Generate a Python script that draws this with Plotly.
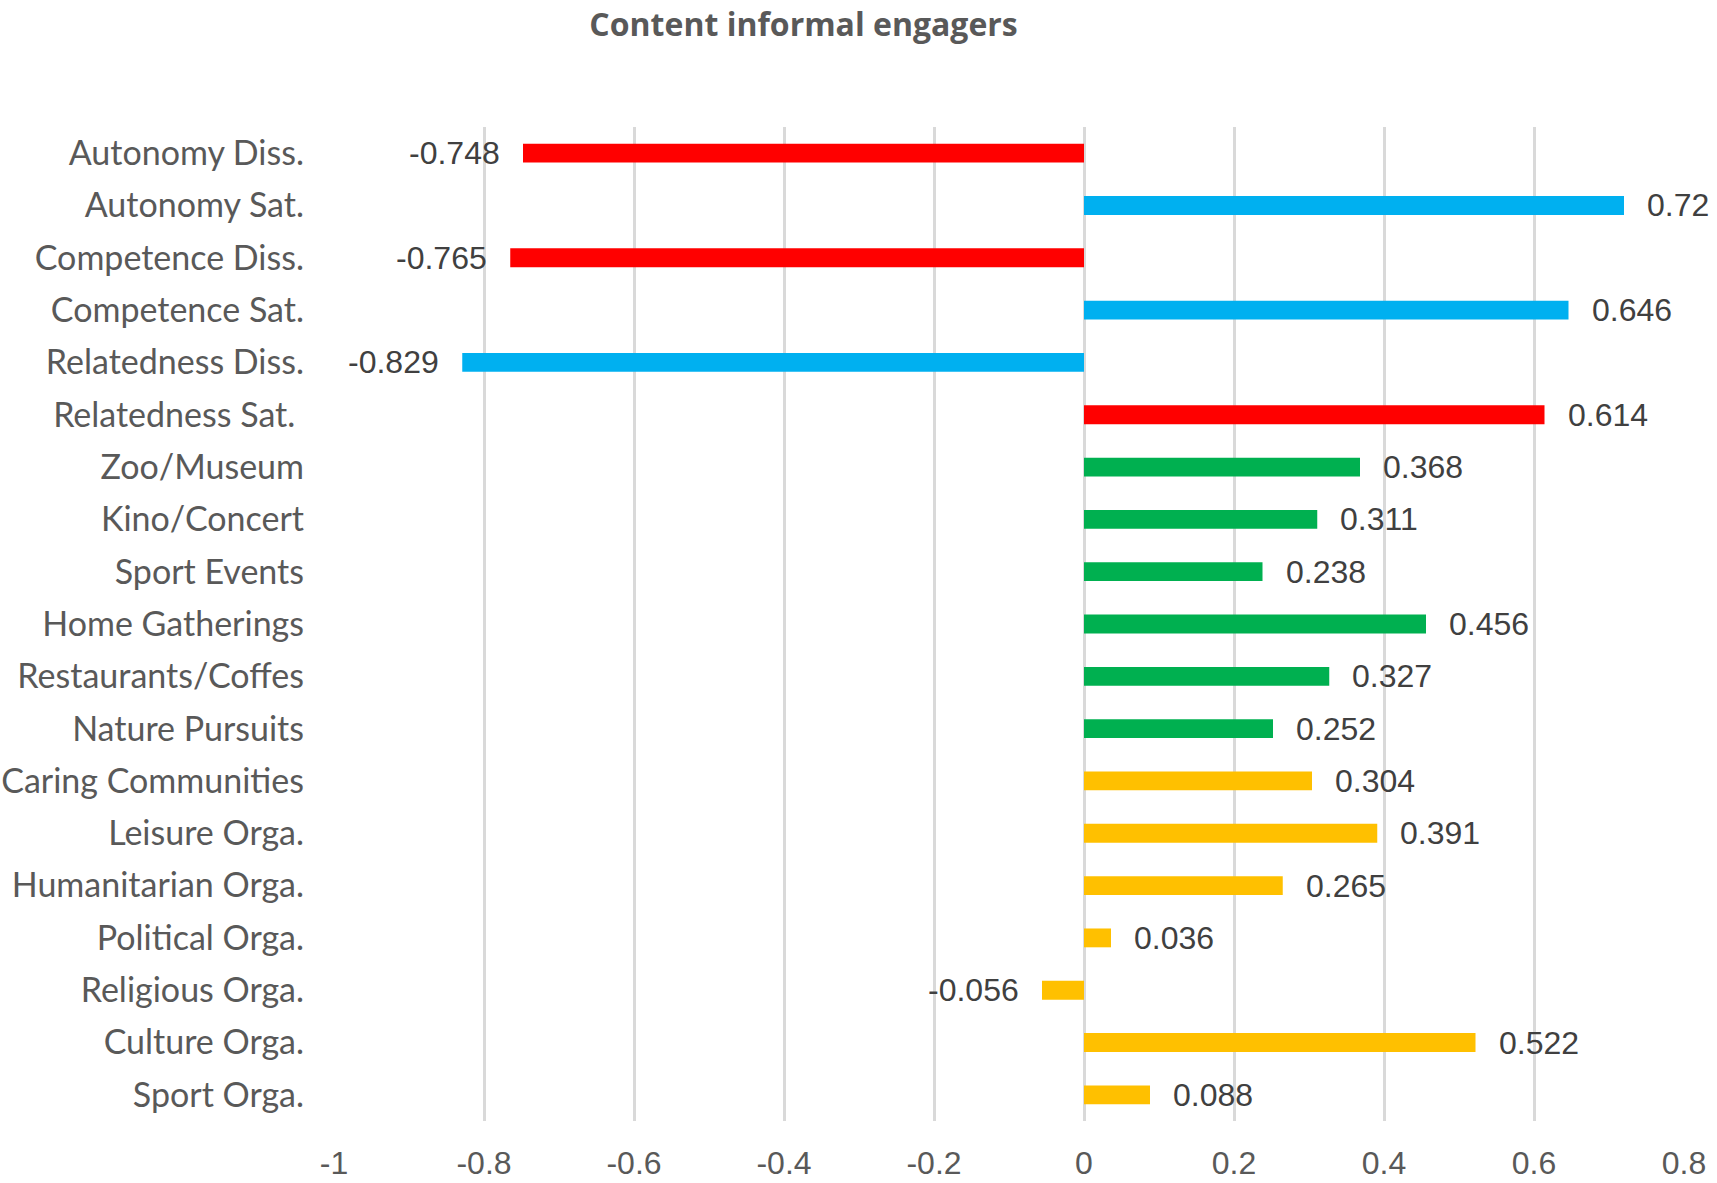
import plotly.graph_objects as go

# chart data, top to bottom
categories = [
    "Autonomy Diss.", "Autonomy Sat.", "Competence Diss.", "Competence Sat.",
    "Relatedness Diss.", "Relatedness Sat.\u00a0", "Zoo/Museum", "Kino/Concert",
    "Sport Events", "Home Gatherings", "Restaurants/Coffes", "Nature Pursuits",
    "Caring Communities", "Leisure Orga.", "Humanitarian Orga.", "Political Orga.",
    "Religious Orga.", "Culture Orga.", "Sport Orga.",
]
values = [
    -0.748, 0.72, -0.765, 0.646, -0.829, 0.614, 0.368, 0.311, 0.238, 0.456,
    0.327, 0.252, 0.304, 0.391, 0.265, 0.036, -0.056, 0.522, 0.088,
]
value_labels = [
    "-0.748", "0.72", "-0.765", "0.646", "-0.829", "0.614", "0.368", "0.311",
    "0.238", "0.456", "0.327", "0.252", "0.304", "0.391", "0.265", "0.036",
    "-0.056", "0.522", "0.088",
]
groups = ["red", "blue", "red", "blue", "blue", "red"] + ["green"] * 6 + ["yellow"] * 7

x_tickvals = [-1, -0.8, -0.6, -0.4, -0.2, 0, 0.2, 0.4, 0.6, 0.8]
x_ticktext = ["-1", "-0.8", "-0.6", "-0.4", "-0.2", "0", "0.2", "0.4", "0.6", "0.8"]

palette = {"red": "#FF0000", "blue": "#00B0F0", "green": "#00B050", "yellow": "#FFC000"}
bar_colors = [palette[g] for g in groups]

fig = go.Figure()
fig.add_trace(go.Bar(
    x=values, y=categories, orientation="h",
    marker=dict(color=bar_colors, line_width=0),
    hoverinfo="x+y",
))

# value labels next to bar ends
for cat, v, lab in zip(categories, values, value_labels):
    fig.add_annotation(
        x=v, y=cat, text=lab, showarrow=False,
        xanchor="left" if v >= 0 else "right",
        xshift=21 if v >= 0 else -21,
        font=dict(family="Liberation Sans, Arial", size=32, color="#404040"),
    )

fig.update_layout(
    width=1717, height=1183,
    margin=dict(l=334, r=33, t=127, b=62),
    paper_bgcolor="white", plot_bgcolor="white",
    bargap=0.64, showlegend=False,
    title=dict(
        text="<b>Content informal engagers</b>",
        x=0.468, xref="container", xanchor="center",
        y=1 - 25 / 1183, yref="container", yanchor="middle",
        font=dict(family="Open Sans, Calibri", size=32, color="#595959"),
    ),
)
fig.update_xaxes(
    range=[-1, 0.8], tickvals=x_tickvals, ticktext=x_ticktext,
    showgrid=True, gridcolor="#D9D9D9", gridwidth=2.5,
    zeroline=True, zerolinecolor="#D9D9D9", zerolinewidth=2.5,
    showline=False, ticks="", ticklabelstandoff=20, automargin=False,
    tickfont=dict(family="Liberation Sans, Arial", size=32, color="#595959"),
)
fig.update_yaxes(
    categoryorder="array", categoryarray=categories, autorange="reversed",
    showgrid=False, showline=False, ticks="", ticklabelstandoff=29, automargin=False,
    tickfont=dict(family="Lato, Calibri", size=34, color="#595959"),
)

# drop the default page margin so the figure sits at the window corner
fig.write_html(
    "out.html",
    config={"displayModeBar": False},
    post_script="document.body.style.margin='0px';",
)
